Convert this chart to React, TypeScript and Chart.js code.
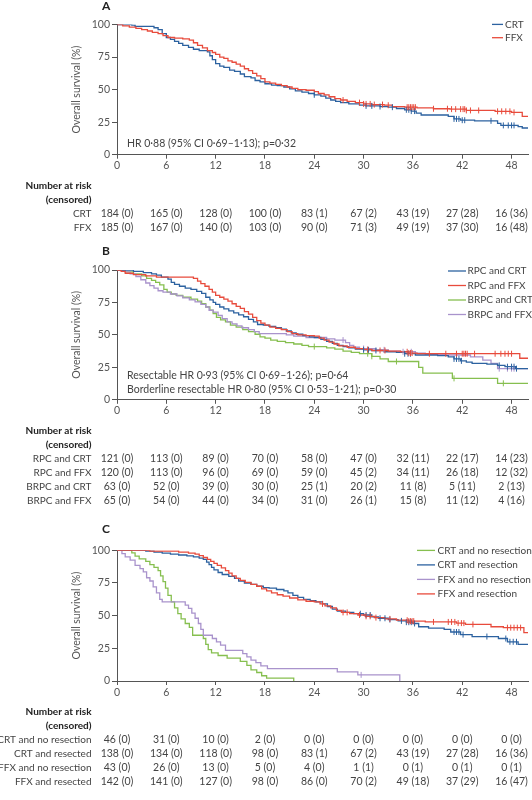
import React, { useEffect, useRef } from "react";
import { Chart, registerables } from "chart.js";
Chart.register(...registerables);

const FONT = "Lato, 'Open Sans', sans-serif";
Chart.defaults.font.family = FONT;

const BLUE = "#2c62a0";
const RED = "#e84b3c";
const GREEN = "#86bf4f";
const PURPLE = "#a993cc";

const xTicks = [0, 6, 12, 18, 24, 30, 36, 42, 48];
const yTicks = [0, 25, 50, 75, 100];

// ---------- Panel A ----------
const aCRT: number[][] = [[0,100],[1.8,99.5],[2.2,98.5],[4.5,97.5],[5,96],[5.5,93],[6,90],[6.5,88.5],[7,87],[7.5,85.5],[8,84],[8.7,82.5],[9.3,81],[10,80],[11,79],[11.3,76],[11.6,73],[12,70],[12.5,68],[13,67],[13.7,65],[14.3,64],[15,62],[15.5,60],[16.3,59],[16.8,57],[17.4,56],[18,54.5],[18.8,53.5],[19.5,53],[20.3,52],[21,50.5],[21.7,49],[22.5,48],[23.3,47],[24,46],[24.8,45],[25.4,43.5],[26,42],[26.6,41],[27.2,40],[28.2,39],[29.5,38],[30.3,37.5],[32,37],[33,36.5],[34,35.5],[35,34.5],[35.8,33.5],[36.4,32],[37,30.5],[40.3,29.5],[41,27.5],[41.8,26.5],[43.5,26],[46.3,24],[46.7,22.5],[48.8,21.5],[49.3,20.5],[50,20.5]];
const aFFX: number[][] = [[0,100],[0.7,99],[1.5,98],[2.3,97],[3,96],[3.7,95],[4.3,94],[5,93],[5.6,91.5],[6.2,90],[7,89.5],[8,89],[8.8,88],[9.3,86],[9.8,84],[10.4,82],[11,80],[11.6,78.5],[12,77],[12.5,75],[13,74],[13.5,72],[14,71],[14.5,69.5],[15,68],[15.5,66],[16,64.5],[16.5,62.5],[17,60.5],[17.5,58.5],[18,56],[18.6,55],[19.3,54],[20,53],[20.7,52],[21.3,51],[22,50],[23,49.5],[24,48.5],[24.5,47],[25.2,46],[25.8,44.5],[26.5,43],[27.2,42],[28,41],[29,40],[30,39],[31,38.5],[32.5,38],[33.5,37],[35,36.5],[36.5,36],[38.5,35.3],[40.5,35],[42.5,34],[44,34],[46,33.3],[48,32.5],[49.3,29.5],[50,29.5]];
const aCRTcens = [24,30.3,31,32,33.5,35.2,35.5,35.8,36.2,41,41.3,41.6,42,42.3,45.5,47,47.6,48,48.3];
const aFFXcens = [27.5,29.5,30,30.3,30.8,31.3,32.3,33,35.3,35.5,35.7,35.9,36.1,36.3,38.5,40.2,40.7,41.2,41.8,42.1,42.3,42.5,43,44,46.3,46.8,47.3,47.8,48.3];
const aRiskCRT = [184,165,128,100,83,67,43,27,16];
const aCensCRT = [0,0,0,0,1,2,19,28,36];
const aRiskFFX = [185,167,140,103,90,71,49,37,16];
const aCensFFX = [0,0,0,0,0,3,19,30,48];

// ---------- Panel B ----------
const bRpcCRT: number[][] = [[0,100],[2,99],[3.2,98],[4.2,97],[4.8,96],[5.4,94.5],[6.2,93],[6.6,90.5],[7,89],[7.6,87.5],[8.3,86],[9,85],[9.7,83.5],[10.3,82],[10.8,79],[11.3,77],[11.7,75],[12,73.5],[12.5,71.5],[13,70],[13.6,68.5],[14.2,67],[14.8,65.5],[15.4,64],[16,62],[16.6,60],[17.1,58],[17.8,57.5],[18.5,56.5],[19.3,55.5],[20,54.5],[20.6,53],[21.2,51.5],[21.8,50.5],[22.6,49.5],[23.4,48.5],[24,48],[24.8,46.5],[25.5,45],[26.2,43.5],[26.8,42],[27.5,41],[28.2,40],[29,39],[30,38.5],[31,38],[32.5,37],[34,36.5],[35,35.5],[36.3,34.5],[39,34],[40.3,33],[41,31.5],[41.8,30],[42.5,29],[43.2,28],[45,27.5],[46.3,26.5],[47.2,25.5],[48.5,24],[50,24]];
const bRpcFFX: number[][] = [[0,100],[0.5,99],[1,97.5],[2,96.5],[3.5,95.5],[4.8,94.5],[9.3,93.5],[9.8,91.5],[10.2,89.5],[10.7,87.5],[11.2,85],[11.6,83],[12,80.5],[12.5,79],[13,77.5],[13.5,76],[14,74],[14.5,72],[15,70.5],[15.5,68],[16,66],[16.5,63.5],[17,61],[17.5,59],[18,57.5],[18.6,56],[19.3,55],[20,54],[20.7,52.5],[21.3,51],[22,50],[23,49.5],[24,49],[24.6,47.5],[25.2,46],[25.8,44.5],[26.4,43],[27,41.5],[28,40.5],[29,39.5],[30,38.8],[31,38],[33,37.5],[34.5,37],[35.5,36],[36.5,35.5],[48.6,35.5],[49,32],[50,32]];
const bBrpcCRT: number[][] = [[0,100],[1,98.5],[2,97],[3,95.5],[3.6,93.5],[4.2,92],[4.7,90.5],[5.2,88.5],[5.7,85],[6.1,83],[6.6,81.5],[7.2,80.5],[8,79],[9,77.5],[9.8,76],[10.3,74],[10.8,71.5],[11.3,69],[11.7,66.5],[12.1,63.5],[12.6,61.5],[13.2,60],[13.8,57.5],[14.5,56],[15.3,54],[16,52.5],[16.8,50.5],[17.4,48.5],[18,47.5],[18.7,46],[19.5,45],[20.5,44],[21.5,43],[22.5,42],[23.3,41],[25.5,40],[26.5,39],[27.5,37.5],[28.5,36.5],[29.5,35.5],[31,33.5],[32,31.5],[33,29.5],[36.7,25],[37.2,20.5],[40.8,16.5],[46.3,12.7],[50,12.7]];
const bBrpcFFX: number[][] = [[0,100],[1,98.5],[1.6,97],[2.3,95],[2.9,92.5],[3.5,90],[4,88],[4.5,86],[5,84],[5.6,83],[6.5,81.5],[7.3,80],[8,78.5],[8.8,77],[9.5,75.5],[10.2,73.5],[10.8,71.5],[11.2,69],[11.7,67.5],[12.3,65],[12.8,62.5],[13.4,60],[14,58.5],[14.6,57],[15.2,55.5],[16,54],[16.7,52.5],[17.3,51],[20.6,50],[21.5,49],[23,48],[25.5,47],[26.5,46],[27.8,44],[28.3,42],[28.8,40.5],[29.5,39.5],[31.5,38.5],[33,37.5],[34.5,37],[36.3,36],[37.5,35],[40,34.5],[43,33],[44.5,30.5],[45.5,28],[46.3,24],[50,24]];
const bRpcCRTcens = [30,30.6,31.5,35,35.4,35.7,41,41.3,41.6,41.9,46.5,47.5,48,48.3,48.6];
const bRpcFFXcens = [30.5,32,32.6,35.3,35.5,35.7,35.9,38,40,41.3,42,42.2,42.4,42.6,43.5,46,46.7,47.2,47.6,48];
const bBrpcCRTcens = [24,30.5,31,34,41,47];
const bBrpcFFXcens = [27.5,30,32.5,34.8,35.8,46.5,47.5,48,48.3];
const bRiskRpcCRT = [121,113,89,70,58,47,32,22,14];
const bCensRpcCRT = [0,0,0,0,0,0,11,17,23];
const bRiskRpcFFX = [120,113,96,69,59,45,34,26,12];
const bCensRpcFFX = [0,0,0,0,0,2,11,18,32];
const bRiskBrpcCRT = [63,52,39,30,25,20,11,5,2];
const bCensBrpcCRT = [0,0,0,0,1,2,8,11,13];
const bRiskBrpcFFX = [65,54,44,34,31,26,15,11,4];
const bCensBrpcFFX = [0,0,0,0,0,1,8,12,16];

// ---------- Panel C ----------
const cCrtNoRes: number[][] = [[0,100],[1.8,98],[2.2,95.5],[2.7,93.5],[3.5,91.5],[4,89],[4.5,87],[5,84.5],[5.3,80.5],[5.6,76],[5.9,71],[6.2,65.5],[6.6,60.5],[7,56],[7.4,51.5],[7.8,47.5],[8.3,44],[8.8,41],[9.2,35],[10.5,32.5],[10.8,28],[11.1,24],[11.5,21.5],[12.3,19.5],[13.4,17.5],[15,15],[15.8,12],[16.3,8.5],[17,6.5],[17.6,4],[18.2,2.2],[21.5,0]];
const cCrtRes: number[][] = [[0,100],[3.5,99.3],[4.5,98.6],[5.5,97.8],[6.5,97.1],[7.5,96.4],[8.5,95.7],[9.3,95],[10,94],[10.5,93],[10.9,91],[11.2,89],[11.5,87],[11.8,85],[12.3,83],[12.8,81.5],[13.6,80],[14.3,78.5],[14.8,76.5],[15.5,75],[16.3,74],[17,72.5],[17.8,71.5],[18.5,71],[19.4,70],[20.3,69],[20.8,67.5],[21.4,65.5],[22,64],[22.7,62.5],[23.5,61.5],[24.2,60.5],[25,59],[25.6,57],[26.2,55],[26.8,53.5],[27.8,52.5],[28.8,51.5],[30,50.5],[31,49],[31.8,48],[33,47],[34.2,46],[35.2,45],[36,44],[36.7,41.5],[37.9,40.5],[39.8,39.5],[40.6,37.5],[41.8,35.5],[43.2,34],[46.4,32.5],[47.5,30],[48.8,28],[50,28]];
const cFfxNoRes: number[][] = [[0,100],[0.6,97.5],[1,95],[1.6,92.5],[2.2,88.5],[2.8,86],[3.2,83.5],[3.6,79],[4,76.5],[4.4,72],[4.8,67.5],[5.2,62.5],[5.5,60.5],[8.3,58],[8.7,55.5],[9.1,52],[9.5,48],[9.9,44],[10.2,39.5],[10.5,35],[11.6,32.5],[12.1,30],[12.6,27.5],[13.2,23.5],[15.3,21],[15.8,18.5],[16.3,16],[16.9,14],[17.5,11.5],[18.3,9.5],[26.8,7],[29.3,4.7],[34.4,0]];
const cFfxRes: number[][] = [[0,100],[4,99.3],[7.5,98.6],[8.7,97.9],[9.5,97],[10,96],[10.5,94.5],[11,93],[11.4,91.5],[11.8,90],[12.2,88.5],[12.7,86.5],[13.2,84.5],[13.6,82.5],[14,80.5],[14.5,78.5],[15,77],[15.6,75.5],[16.3,74],[17,72.5],[17.6,70.5],[18.2,69],[18.8,67.5],[19.5,66],[20.2,65],[21,63.5],[22,62],[23,61],[24,60.5],[24.7,59],[25.3,57.5],[26,56],[26.7,54],[27.3,52.5],[28.3,51.5],[29.3,50.5],[30.2,49.5],[31.3,48.5],[32.6,47.5],[34,46.5],[35.5,45.8],[37.5,45.2],[41.3,44.3],[42.4,43.3],[45.5,41.5],[47,40.8],[49.5,37],[50,37]];
const cCrtNoResCens: number[] = [];
const cCrtResCens = [29.6,30.3,30.8,32,32.6,33.2,34.6,35.2,35.5,35.8,36.2,41,41.3,41.6,42.1,45,47.3,47.8,48.2,48.6];
const cFfxNoResCens = [29.7];
const cFfxResCens = [25,27.5,28,29.5,30.3,30.8,31.5,33.2,35.3,35.5,35.7,35.9,36.1,38.5,40.3,40.7,41.1,41.5,41.9,42.2,43.3,47.5,47.9,48.3,48.7,49.1];
const cRiskCrtNoRes = [46,31,10,2,0,0,0,0,0];
const cCensCrtNoRes = [0,0,0,0,0,0,0,0,0];
const cRiskCrtRes = [138,134,118,98,83,67,43,27,16];
const cCensCrtRes = [0,0,0,0,1,2,19,28,36];
const cRiskFfxNoRes = [43,26,13,5,4,1,0,0,0];
const cCensFfxNoRes = [0,0,0,0,0,1,1,1,1];
const cRiskFfxRes = [142,141,127,98,86,70,49,37,16];
const cCensFfxRes = [0,0,0,0,0,2,18,29,47];

type Series = { label: string; color: string; curve: number[][]; cens: number[] };
type Row = { label: string; n: number[]; c: number[] };
type Panel = {
  top: number; height: number; plotTop: number; plotBottom: number;
  letter: string; letterY: number;
  series: Series[]; drawOrder: number[];
  legend: { x0: number; x1: number; tx: number; y0: number; dy: number };
  notes: { text: string; y: number }[];
  rows: Row[];
};

const panels: Panel[] = [
  {
    top: 0, height: 240, plotTop: 24.5, plotBottom: 154.7, letter: "A", letterY: 6,
    series: [
      { label: "CRT", color: BLUE, curve: aCRT, cens: aCRTcens },
      { label: "FFX", color: RED, curve: aFFX, cens: aFFXcens },
    ],
    drawOrder: [1, 0],
    legend: { x0: 492, x1: 503, tx: 505, y0: 24.4, dy: 13.3 },
    notes: [{ text: "HR 0·88 (95% CI 0·69–1·13); p=0·32", y: 143.8 }],
    rows: [
      { label: "CRT", n: aRiskCRT, c: aCensCRT },
      { label: "FFX", n: aRiskFFX, c: aCensFFX },
    ],
  },
  {
    top: 240, height: 285, plotTop: 30, plotBottom: 159.8, letter: "B", letterY: 11.5,
    series: [
      { label: "RPC and CRT", color: BLUE, curve: bRpcCRT, cens: bRpcCRTcens },
      { label: "RPC and FFX", color: RED, curve: bRpcFFX, cens: bRpcFFXcens },
      { label: "BRPC and CRT", color: GREEN, curve: bBrpcCRT, cens: bBrpcCRTcens },
      { label: "BRPC and FFX", color: PURPLE, curve: bBrpcFFX, cens: bBrpcFFXcens },
    ],
    drawOrder: [1, 0, 3, 2],
    legend: { x0: 448, x1: 466, tx: 467.5, y0: 31, dy: 14.5 },
    notes: [
      { text: "Resectable HR 0·93 (95% CI 0·69–1·26); p=0·64", y: 135.5 },
      { text: "Borderline resectable HR 0·80 (95% CI 0·53–1·21); p=0·30", y: 150 },
    ],
    rows: [
      { label: "RPC and CRT", n: bRiskRpcCRT, c: bCensRpcCRT },
      { label: "RPC and FFX", n: bRiskRpcFFX, c: bCensRpcFFX },
      { label: "BRPC and CRT", n: bRiskBrpcCRT, c: bCensBrpcCRT },
      { label: "BRPC and FFX", n: bRiskBrpcFFX, c: bCensBrpcFFX },
    ],
  },
  {
    top: 525, height: 275, plotTop: 25.3, plotBottom: 156, letter: "C", letterY: 4,
    series: [
      { label: "CRT and no resection", color: GREEN, curve: cCrtNoRes, cens: cCrtNoResCens },
      { label: "CRT and resection", color: BLUE, curve: cCrtRes, cens: cCrtResCens },
      { label: "FFX and no resection", color: PURPLE, curve: cFfxNoRes, cens: cFfxNoResCens },
      { label: "FFX and resection", color: RED, curve: cFfxRes, cens: cFfxResCens },
    ],
    drawOrder: [3, 1, 2, 0],
    legend: { x0: 417, x1: 435, tx: 437.5, y0: 25.4, dy: 14.5 },
    notes: [],
    rows: [
      { label: "CRT and no resection", n: cRiskCrtNoRes, c: cCensCrtNoRes },
      { label: "CRT and resected", n: cRiskCrtRes, c: cCensCrtRes },
      { label: "FFX and no resection", n: cRiskFfxNoRes, c: cCensFfxNoRes },
      { label: "FFX and resected", n: cRiskFfxRes, c: cCensFfxRes },
    ],
  },
];

function stepAt(curve: number[][], t: number): number {
  let v = curve[0][1];
  for (const [x, y] of curve) {
    if (x <= t) v = y;
    else break;
  }
  return v;
}

const AXIS = "#555";
const TEXT = "#444";

function PanelChart({ p }: { p: Panel }) {
  const ref = useRef<HTMLCanvasElement | null>(null);
  useEffect(() => {
    if (!ref.current) return;
    const datasets: any[] = [];
    // censor marks first => drawn on top
    p.drawOrder.forEach((i) => {
      const s = p.series[i];
      datasets.push({
        label: s.label + " censored",
        data: s.cens.map((t) => ({ x: t, y: stepAt(s.curve, t) })),
        showLine: false,
        pointStyle: "line",
        pointRotation: 90,
        pointRadius: 3,
        pointBorderWidth: 1,
        pointBorderColor: s.color,
        borderColor: s.color,
        pointHoverRadius: 3,
      });
    });
    p.drawOrder.forEach((i) => {
      const s = p.series[i];
      datasets.push({
        label: s.label,
        data: s.curve.map(([x, y]) => ({ x, y })),
        stepped: true,
        borderColor: s.color,
        borderWidth: 1.3,
        pointRadius: 0,
        fill: false,
      });
    });

    const deco = {
      id: "deco" + p.letter,
      afterDraw(chart: any) {
        const ctx = chart.ctx as CanvasRenderingContext2D;
        const area = chart.chartArea;
        const xs = chart.scales.x;
        ctx.save();
        // panel letter
        ctx.fillStyle = "#222";
        ctx.font = `bold 12px ${FONT}`;
        ctx.textAlign = "left";
        ctx.textBaseline = "middle";
        ctx.fillText(p.letter, 102, p.letterY);
        // y title
        ctx.save();
        ctx.translate(77, (area.top + area.bottom) / 2);
        ctx.rotate(-Math.PI / 2);
        ctx.fillStyle = AXIS;
        ctx.font = `10.5px ${FONT}`;
        ctx.textAlign = "center";
        ctx.textBaseline = "middle";
        ctx.fillText("Overall survival (%)", 0, 0);
        ctx.restore();
        // notes
        ctx.fillStyle = TEXT;
        ctx.font = `10.5px ${FONT}`;
        ctx.textAlign = "left";
        ctx.textBaseline = "middle";
        p.notes.forEach((n) => ctx.fillText(n.text, 127, n.y));
        // legend
        p.series.forEach((s, i) => {
          const y = p.legend.y0 + i * p.legend.dy;
          ctx.strokeStyle = s.color;
          ctx.lineWidth = 1.3;
          ctx.beginPath();
          ctx.moveTo(p.legend.x0, y);
          ctx.lineTo(p.legend.x1, y);
          ctx.stroke();
          ctx.fillStyle = TEXT;
          ctx.font = `10px ${FONT}`;
          ctx.textAlign = "left";
          ctx.fillText(s.label, p.legend.tx, y);
        });
        // risk table
        const b = area.bottom;
        ctx.textAlign = "right";
        ctx.fillStyle = "#222";
        ctx.font = `bold 10px ${FONT}`;
        ctx.fillText("Number at risk", 91.5, b + 31);
        ctx.fillText("(censored)", 91.5, b + 45);
        p.rows.forEach((r, ri) => {
          const y = b + 59 + ri * 14;
          ctx.fillStyle = TEXT;
          ctx.font = `10px ${FONT}`;
          ctx.textAlign = "right";
          ctx.fillText(r.label, 91.5, y);
          ctx.font = `10.5px ${FONT}`;
          ctx.textAlign = "center";
          xTicks.forEach((t, k) => {
            ctx.fillText(`${r.n[k]} (${r.c[k]})`, xs.getPixelForValue(t), y);
          });
        });
        ctx.restore();
      },
    };

    const chart = new Chart(ref.current, {
      type: "line",
      data: { datasets },
      options: {
        responsive: false,
        animation: false,
        events: [],
        layout: { padding: { top: p.plotTop, left: 0, right: 0, bottom: 0 } },
        plugins: { legend: { display: false }, tooltip: { enabled: false } },
        scales: {
          x: {
            type: "linear",
            min: 0,
            max: 50,
            afterBuildTicks: (s: any) => {
              s.ticks = xTicks.map((v) => ({ value: v }));
            },
            afterFit: (s: any) => {
              s.height = p.height - p.plotBottom;
            },
            ticks: { color: AXIS, font: { size: 10.5, family: FONT }, padding: 1, maxRotation: 0, autoSkip: false },
            grid: { drawOnChartArea: false, drawTicks: true, tickLength: 4, color: AXIS, lineWidth: 1 },
            border: { display: true, color: AXIS, width: 1 },
          },
          y: {
            type: "linear",
            min: 0,
            max: 100,
            afterBuildTicks: (s: any) => {
              s.ticks = yTicks.map((v) => ({ value: v }));
            },
            afterFit: (s: any) => {
              s.width = 117;
            },
            ticks: { color: AXIS, font: { size: 10.5, family: FONT }, padding: 2 },
            grid: { drawOnChartArea: false, drawTicks: true, tickLength: 5, color: AXIS, lineWidth: 1 },
            border: { display: true, color: AXIS, width: 1 },
          },
        },
      } as any,
      plugins: [deco],
    });
    return () => chart.destroy();
  }, [p]);
  return (
    <canvas
      ref={ref}
      width={532}
      height={p.height}
      style={{ position: "absolute", left: 0, top: p.top, width: 532, height: p.height }}
    />
  );
}

export default function App() {
  return (
    <div style={{ position: "absolute", left: 0, top: 0, width: 532, height: 800, background: "#fff", overflow: "hidden" }}>
      {panels.map((p) => (
        <PanelChart key={p.letter} p={p} />
      ))}
    </div>
  );
}
